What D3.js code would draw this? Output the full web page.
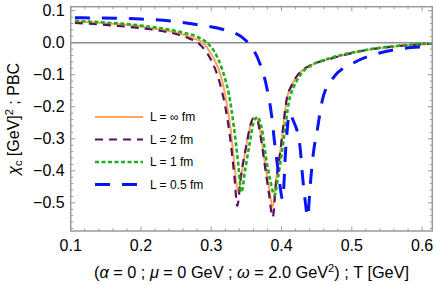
<!DOCTYPE html>
<meta charset="utf-8">
<html>
  <head>
    <title>chi_c PBC</title>
    <script src="https://d3js.org/d3.v7.min.js"></script>
    <style>
      body { margin: 0; background: white; }
      text { font-family: "Liberation Sans", Arial, sans-serif; fill: #000; }
    </style>
  </head>
  <body>
    <div id="chart"></div>
    <script type="text/javascript">
        /* data: [T (GeV), chi_c] */
        var T_inf  = [0.106,0.142,0.18,0.213,0.255,0.275,0.288,0.30,0.31,0.315,0.32,0.327,0.333,0.338,0.343,0.35,0.356,0.36,0.365,0.37,0.376,0.382,0.3875,0.392,0.397,0.402,0.407,0.414,0.421,0.43,0.44,0.4725,0.521,0.568,0.615];
        var chi_inf = [0.066,0.062,0.056,0.046,0.029,0.014,0.0,-0.035,-0.08,-0.115,-0.165,-0.26,-0.38,-0.467,-0.41,-0.32,-0.255,-0.236,-0.237,-0.28,-0.37,-0.45,-0.513,-0.43,-0.36,-0.27,-0.18,-0.135,-0.107,-0.085,-0.072,-0.048,-0.023,-0.01,-0.003];

        var T_2   = [0.106,0.142,0.18,0.213,0.255,0.27,0.281,0.29,0.30,0.31,0.315,0.32,0.327,0.333,0.337,0.342,0.35,0.356,0.36,0.365,0.37,0.376,0.382,0.3875,0.392,0.397,0.402,0.407,0.414,0.421,0.43,0.44,0.4725,0.521,0.568,0.615];
        var chi_2 = [0.062,0.057,0.05,0.042,0.024,0.012,0.0,-0.02,-0.055,-0.11,-0.15,-0.2,-0.3,-0.42,-0.51,-0.42,-0.32,-0.255,-0.236,-0.24,-0.29,-0.38,-0.47,-0.545,-0.44,-0.36,-0.27,-0.18,-0.135,-0.107,-0.085,-0.072,-0.048,-0.023,-0.01,-0.003];

        var T_1   = [0.106,0.142,0.18,0.213,0.255,0.284,0.294,0.305,0.315,0.32,0.325,0.332,0.338,0.343,0.348,0.355,0.36,0.366,0.372,0.378,0.384,0.39,0.395,0.40,0.405,0.41,0.417,0.425,0.433,0.443,0.4725,0.521,0.568,0.615];
        var chi_1 = [0.068,0.064,0.058,0.05,0.034,0.014,0.0,-0.03,-0.08,-0.115,-0.16,-0.26,-0.37,-0.467,-0.40,-0.31,-0.25,-0.232,-0.27,-0.36,-0.43,-0.477,-0.42,-0.35,-0.27,-0.19,-0.14,-0.107,-0.085,-0.07,-0.046,-0.022,-0.009,-0.002];

        var T_05   = [0.106,0.2,0.25,0.284,0.319,0.345,0.355,0.369,0.379,0.386,0.39,0.394,0.398,0.4015,0.406,0.4115,0.416,0.426,0.43,0.434,0.437,0.441,0.445,0.451,0.458,0.471,0.505,0.538,0.576,0.604,0.615];
        var chi_05 = [0.078,0.074,0.066,0.055,0.04,0.015,-0.007,-0.064,-0.14,-0.23,-0.31,-0.38,-0.45,-0.49,-0.33,-0.22,-0.24,-0.32,-0.42,-0.5,-0.545,-0.44,-0.35,-0.27,-0.18,-0.117,-0.06,-0.033,-0.017,-0.013,-0.012];

        var series_labels = ["L = \u221E fm", "L = 2 fm", "L = 1 fm", "L = 0.5 fm"];
        var x_ticks = [0.1, 0.2, 0.3, 0.4, 0.5, 0.6];
        var y_ticks = [0.1, 0.0, -0.1, -0.2, -0.3, -0.4, -0.5];

        /* layout */
        var total_width = 436, total_height = 285;
        var margin = {top: 6.7, right: 3.7, bottom: 54, left: 70.7};
        var width = total_width - margin.left - margin.right,
            height = total_height - margin.top - margin.bottom;

        var styles = [
            {color: "#F9A45A", width: 2,   dash: null},
            {color: "#5A1060", width: 2.2, dash: "8,6"},
            {color: "#1DAF1D", width: 2.6, dash: "4,2.5"},
            {color: "#0A14F5", width: 3,   dash: "15,12"}
        ];

        var all_series = [
            d3.zip(T_inf, chi_inf),
            d3.zip(T_2, chi_2),
            d3.zip(T_1, chi_1),
            d3.zip(T_05, chi_05)
        ];

        var svg = d3.select("#chart").append("svg")
            .attr("width", total_width)
            .attr("height", total_height);
        var g = svg.append("g")
            .attr("transform", "translate(" + margin.left + "," + margin.top + ")");

        var x = d3.scaleLinear().domain([0.1, 0.6145]).range([0, width]);
        var y = d3.scaleLinear().domain([0.1125, -0.588]).range([0, height]);

        /* clip */
        g.append("clipPath").attr("id", "clip")
            .append("rect").attr("width", width).attr("height", height);

        /* zero line */
        g.append("line")
            .attr("x1", 0).attr("x2", width)
            .attr("y1", y(0)).attr("y2", y(0))
            .attr("stroke", "#8c8c8c").attr("stroke-width", 1.5);

        /* curves */
        var line = d3.line()
            .x(function(d){ return x(d[0]); })
            .y(function(d){ return y(d[1]); })
            .curve(d3.curveMonotoneX);

        var order = [0, 1, 2, 3];
        g.append("g").attr("clip-path", "url(#clip)")
            .selectAll("path")
            .data(order)
            .enter().append("path")
            .attr("d", function(i){ return line(all_series[i]); })
            .attr("fill", "none")
            .attr("stroke", function(i){ return styles[i].color; })
            .attr("stroke-width", function(i){ return styles[i].width; })
            .attr("stroke-dasharray", function(i){ return styles[i].dash; });

        /* frame with inward ticks on all four sides */
        var minor_x = d3.range(0.1, 0.6146, 0.02);
        var minor_y = d3.range(-0.58, 0.113, 0.02);
        var frame_color = "#9a9a9a";

        function isMajor(v){
            return Math.abs(Math.round(v * 10) - v * 10) < 1e-6;
        }

        var axes = g.append("g").attr("class", "frame");
        var xt = axes.append("g");
        xt.selectAll(".mx").data(minor_x).enter().append("line")
            .attr("x1", function(d){ return x(d); }).attr("x2", function(d){ return x(d); })
            .attr("y1", height).attr("y2", function(d){ return height - (isMajor(d) ? 4.5 : 2.5); });
        xt.selectAll(".tx").data(minor_x).enter().append("line")
            .attr("x1", function(d){ return x(d); }).attr("x2", function(d){ return x(d); })
            .attr("y1", 0).attr("y2", function(d){ return isMajor(d) ? 4.5 : 2.5; });
        var yt = axes.append("g");
        yt.selectAll(".ly").data(minor_y).enter().append("line")
            .attr("y1", function(d){ return y(d); }).attr("y2", function(d){ return y(d); })
            .attr("x1", 0).attr("x2", function(d){ return isMajor(d) ? 4.5 : 2.5; });
        yt.selectAll(".ry").data(minor_y).enter().append("line")
            .attr("y1", function(d){ return y(d); }).attr("y2", function(d){ return y(d); })
            .attr("x1", width).attr("x2", function(d){ return width - (isMajor(d) ? 4.5 : 2.5); });
        axes.selectAll("line").attr("stroke", frame_color).attr("stroke-width", 1);

        g.append("rect")
            .attr("width", width).attr("height", height)
            .attr("fill", "none").attr("stroke", frame_color).attr("stroke-width", 1.5);

        /* tick labels */
        g.append("g").selectAll("text").data(x_ticks).enter().append("text")
            .attr("x", function(d){ return x(d); })
            .attr("y", height + 20)
            .attr("text-anchor", "middle")
            .attr("font-size", 16)
            .text(function(d){ return d.toFixed(1); });

        g.append("g").selectAll("text").data(y_ticks).enter().append("text")
            .attr("x", -6)
            .attr("y", function(d){ return y(d) + 5.5; })
            .attr("text-anchor", "end")
            .attr("font-size", 16)
            .text(function(d){ return d < 0 ? "\u2212" + Math.abs(d).toFixed(1) : d.toFixed(1); });

        /* axis labels */
        var xl = svg.append("text")
            .attr("x", margin.left + width / 2)
            .attr("y", 278)
            .attr("text-anchor", "middle")
            .attr("font-size", 16.3);
        xl.append("tspan").text("(");
        xl.append("tspan").attr("font-style", "italic").text("\u03B1");
        xl.append("tspan").text(" = 0 ; ");
        xl.append("tspan").attr("font-style", "italic").text("\u03BC");
        xl.append("tspan").text(" = 0 GeV ; ");
        xl.append("tspan").attr("font-style", "italic").text("\u03C9");
        xl.append("tspan").text(" = 2.0 GeV");
        xl.append("tspan").attr("font-size", 11).attr("dy", -6).text("2");
        xl.append("tspan").attr("dy", 6).text(") ; T [GeV]");

        var yl = svg.append("text")
            .attr("transform", "translate(19," + (margin.top + height / 2) + ") rotate(-90)")
            .attr("text-anchor", "middle")
            .attr("font-size", 16);
        yl.append("tspan").attr("font-style", "italic").text("\u03C7");
        yl.append("tspan").attr("font-size", 11).attr("dy", 3).text("c");
        yl.append("tspan").attr("dy", -3).text(" [GeV]");
        yl.append("tspan").attr("font-size", 11).attr("dy", -6).text("2");
        yl.append("tspan").attr("dy", 6).text(" ; PBC");

        /* legend */
        var legend_y = [117, 139.5, 162, 184.5];
        var legend = svg.append("g").selectAll("g").data(order).enter().append("g")
            .attr("transform", function(i){ return "translate(95," + legend_y[i] + ")"; });
        legend.append("line")
            .attr("x1", 0).attr("x2", 48).attr("y1", 0).attr("y2", 0)
            .attr("stroke", function(i){ return styles[i].color; })
            .attr("stroke-width", function(i){ return styles[i].width; })
            .attr("stroke-dasharray", function(i){ return styles[i].dash; });
        legend.append("text")
            .attr("x", 55).attr("y", 4)
            .attr("font-size", 12)
            .text(function(i){ return series_labels[i]; });
    </script>
  </body>
</html>
